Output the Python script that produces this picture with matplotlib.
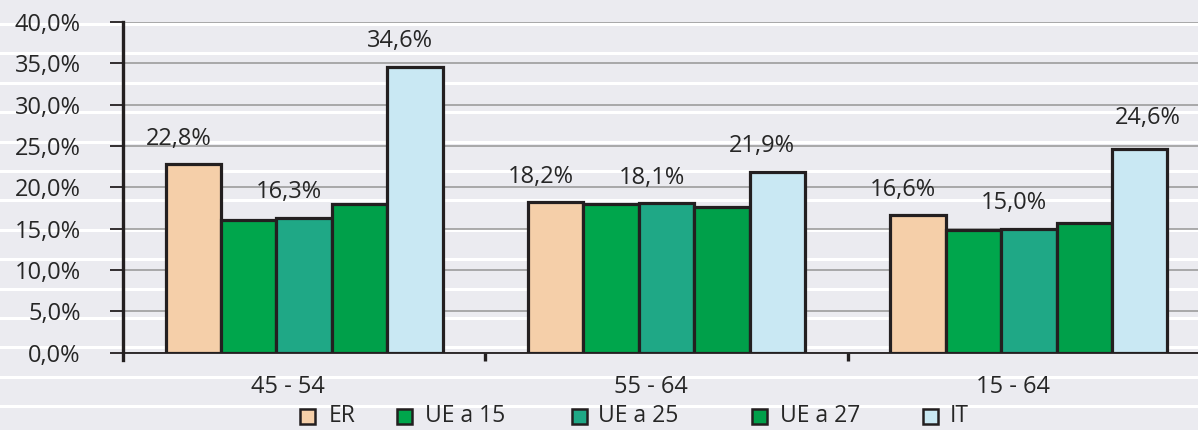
import numpy as np
import matplotlib
matplotlib.use("Agg")
import matplotlib.pyplot as plt
from matplotlib.lines import Line2D
from matplotlib.patches import Rectangle

# ---- data ----
categories = ["45 - 54", "55 - 64", "15 - 64"]
series_names = ["ER", "UE a 15", "UE a 25", "UE a 27", "IT"]
er = [22.8, 18.2, 16.6]
ue15 = [16.0, 18.0, 14.8]
ue25 = [16.3, 18.1, 15.0]
ue27 = [18.0, 17.6, 15.7]
it = [34.6, 21.9, 24.6]
labelled_series = ["ER", "UE a 25", "IT"]
y_ticks = [0, 5, 10, 15, 20, 25, 30, 35, 40]

series = [er, ue15, ue25, ue27, it]
colors = ["#f5cfa9", "#00a64c", "#1fa886", "#00a04a", "#c9e8f3"]
edge = "#231f20"
txt = "#262626"
bg = "#ebebf0"

plt.rcParams['font.family'] = ['Open Sans', 'DejaVu Sans']
FS = 17

W, H = 1198, 430
fig = plt.figure(figsize=(W / 100, H / 100), dpi=100)
fig.patch.set_facecolor(bg)

# decorative white stripes of the background
for k in range(14):
    yp = 24 + 29.4 * k
    fig.add_artist(Line2D([0, 1], [1 - yp / H, 1 - yp / H], transform=fig.transFigure,
                          color="white", lw=2.2, zorder=-5))

ax = fig.add_axes([123 / W, (H - 352.7) / H, 1087 / W, 330.7 / H])
ax.patch.set_visible(False)

x = np.arange(len(categories))
w = 0.153
for k, (vals, c) in enumerate(zip(series, colors)):
    pos = x + (k - 2) * w
    ax.bar(pos, vals, w, color=c, edgecolor=edge, linewidth=2.3, zorder=3)
    if series_names[k] in labelled_series:
        for j, (p, v) in enumerate(zip(pos, vals)):
            dx, dy = -10.8, 14.0
            if series_names[k] == "IT" and j == 2:
                dx, dy = 5.8, 18.5
            ax.annotate(f"{v:.1f}".replace(".", ",") + "%", xy=(p, v),
                        xytext=(dx, dy), textcoords="offset points",
                        ha="center", va="baseline", fontsize=FS, color=txt, zorder=5)

ax.set_xlim(-0.5, 2.5)
ax.set_ylim(0, 40)
ax.set_yticks(y_ticks)
ax.set_yticklabels([f"{v:.1f}".replace(".", ",") + "%" for v in y_ticks])
ax.yaxis.grid(True, color="#959595", lw=1.1, zorder=1)
ax.set_axisbelow(True)
ax.tick_params(axis="y", direction="out", length=9.4, width=1.3, pad=21,
               labelsize=FS, colors=edge, labelcolor=txt)

ax.set_xticks(x)
ax.set_xticklabels([])
ax.tick_params(axis="x", which="major", length=0)
ax.set_xticks([0.5, 1.5], minor=True)
ax.tick_params(axis="x", which="minor", direction="out", length=6, width=2.4, colors=edge)

for j, cat in enumerate(categories):
    ax.annotate(cat, xy=(j, 0), xycoords=ax.get_xaxis_transform(),
                xytext=(-11.5, -24.7), textcoords="offset points",
                ha="center", va="center", fontsize=FS, color=txt)

for s in ["top", "right"]:
    ax.spines[s].set_visible(False)
ax.spines["left"].set_linewidth(2.4)
ax.spines["left"].set_color(edge)
ax.spines["left"].set_bounds(-0.9, 40)
ax.spines["bottom"].set_linewidth(1.3)
ax.spines["bottom"].set_color(edge)

# legend drawn manually
sq_x = [300, 397, 572, 752, 923]
tx_x = [329, 425, 598, 780, 950]
ly = 416
sq = 15
for name, c, sx, tx in zip(series_names, colors, sq_x, tx_x):
    fig.add_artist(Rectangle((sx / W, 1 - (ly + sq / 2) / H), sq / W, sq / H,
                             transform=fig.transFigure, facecolor=c, edgecolor=edge, lw=1.8))
    fig.text(tx / W, 1 - ly / H, name, ha="left", va="center", fontsize=16.5, color=txt)

fig.savefig("out.png", dpi=100, facecolor=bg)
